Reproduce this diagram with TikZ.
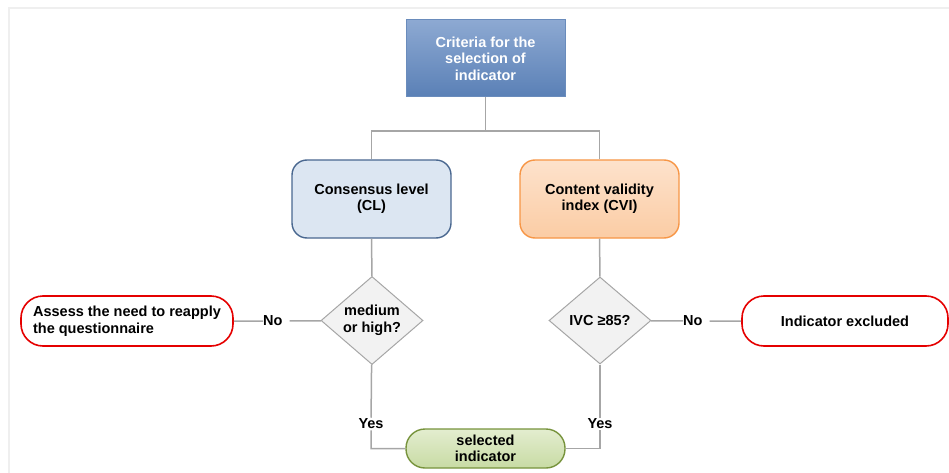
\documentclass[tikz,border=0pt]{standalone}
\usepackage{fontspec}
\setmainfont{Liberation Sans}
\usepackage{xcolor}
\usetikzlibrary{arrows.meta, positioning, calc, shapes.geometric}
\definecolor{critTop}{HTML}{8DA9D2}
\definecolor{critBot}{HTML}{5A80B6}
\definecolor{critLine}{HTML}{6A8CBC}
\definecolor{clFill}{HTML}{DCE6F2}
\definecolor{clLine}{HTML}{4A6890}
\definecolor{cviTop}{HTML}{FDE2CC}
\definecolor{cviBot}{HTML}{FBCCA4}
\definecolor{cviLine}{HTML}{F79646}
\definecolor{selTop}{HTML}{E3EDCF}
\definecolor{selBot}{HTML}{C8DBA4}
\definecolor{selLine}{HTML}{77933C}
\definecolor{connGray}{HTML}{A6A6A6}
\definecolor{frameGray}{HTML}{EFEFEF}

\begin{document}
\begin{tikzpicture}[
					x=1pt, y=-1pt,
					font=\fontsize{14.5}{16.5}\selectfont\bfseries,
					base/.style={align=center, inner sep=2pt},
					critbox/.style={base, rectangle, draw=critLine, line width=1pt, top color=critTop, bottom color=critBot,
						minimum width=159pt, minimum height=77pt, text=white},
					groupbox/.style={base, rectangle, rounded corners=15pt, line width=1.4pt,
						minimum width=159pt, minimum height=78pt},
					test/.style={base, diamond, draw=connGray, fill=gray!10, line width=1pt, inner sep=0pt,
						minimum width=102pt, minimum height=87pt},
					outcome/.style={base, rectangle, rounded corners=22pt, draw=red!90!black, fill=white, line width=1.6pt,
						minimum height=50pt},
					label/.style={base, inner sep=1pt},
					nolabel/.style={base, inner xsep=0pt, anchor=west},
					conn/.style={draw=connGray, line width=1.5pt}
					]
					\useasboundingbox (0,0) rectangle (949,473);
					% --- frame ---
					\draw[frameGray, line width=1.5pt] (949,8) -- (9,8) -- (9,473);
					
					% --- top: criteria ---
					\node[critbox] (crit) at (485.5,58.5) {Criteria for the\\ selection of\\ indicator};
					\coordinate (split) at (485.5,131);
					
					% --- middle: CL and CVI ---
					\node[groupbox, draw=clLine, fill=clFill] (cl) at (371.5,199) {Consensus level\\ (CL)};
					\node[groupbox, draw=cviLine, top color=cviTop, bottom color=cviBot] (cvi) at (599.5,199) {Content validity\\ index (CVI)};
					\draw[conn] (crit) -- (split) -| (cl);
					\draw[conn] (split) -| (cvi);
					
					% --- decisions ---
					\node[test] (medium) at (372,320.5) {medium\\ or high?};
					\node[test] (ivc) at (600,320.5) {IVC ≥85?};
					\draw[conn] (cl) -- (medium);
					\draw[conn] (cvi) -- (ivc);
					
					% --- No branches ---
					\node[outcome, minimum width=212pt, align=left] (assess) at (127,321) {Assess the need to reapply\\ the questionnaire};
					\node[outcome, minimum width=206pt] (excluded) at (845,321) {Indicator excluded};
					\node[nolabel] (noL) at (263,321) {No\kern7pt};
					\node[nolabel] (noR) at (683,321) {No\kern7pt};
					\draw[conn] (assess) -- (noL) -- (medium);
					\draw[conn] (ivc) -- (noR) -- (excluded);
					
					% --- Yes branches ---
					\node[base, rectangle, rounded corners=19pt, draw=selLine, line width=1.4pt, top color=selTop, bottom color=selBot,
						minimum width=159pt, minimum height=39pt, inner sep=0pt] (sel) at (485.5,448.5) {selected\\ indicator};
					\node[label] (yesL) at (371,424) {Yes};
					\node[label] (yesR) at (600,424) {Yes};
					\draw[conn] (medium) -- (yesL) |- (sel);
					\draw[conn] (ivc) -- (yesR) |- (sel);
				\end{tikzpicture}
\end{document}
